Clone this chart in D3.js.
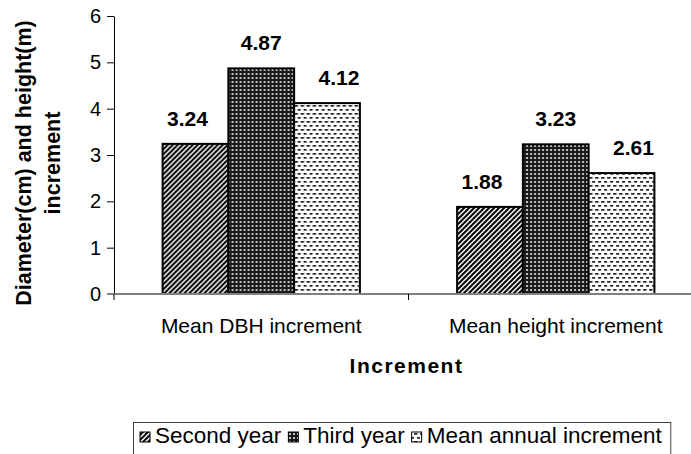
<!DOCTYPE html>
<html>
<head>
<meta charset="utf-8">
<script src="https://cdn.jsdelivr.net/npm/d3@7"></script>
<style>
  html, body { margin: 0; padding: 0; background: #fff; }
  svg { display: block; font-family: "Liberation Sans", Arial, sans-serif; }
</style>
</head>
<body>
<svg id="chart" width="691" height="454"></svg>
<script>
// Increment data: DBH (cm) and height (m)
const categories = ["Mean DBH increment", "Mean height increment"];
const seriesNames = ["Second year", "Third year", "Mean annual increment"];
const secondYear = [3.24, 1.88];
const thirdYear = [4.87, 3.23];
const meanAnnual = [4.12, 2.61];
const yTicks = [0, 1, 2, 3, 4, 5, 6];

const seriesValues = [secondYear, thirdYear, meanAnnual];
const patternIds = ["pat-diag", "pat-grid", "pat-dash"];
const labelNudge = [-8, 0, 12];
const FONT = "Liberation Sans, Arial, sans-serif";

const svg = d3.select("#chart");
const defs = svg.append("defs");

// Diagonal hatching
const p1 = defs.append("pattern").attr("id", "pat-diag")
  .attr("patternUnits", "userSpaceOnUse").attr("width", 5).attr("height", 5);
p1.append("rect").attr("width", 5).attr("height", 5).attr("fill", "#fff");
p1.append("path").attr("d", "M-1,1 l2,-2 M0,5 l5,-5 M4,6 l2,-2")
  .attr("stroke", "#000").attr("stroke-width", 2);

// Dark grid with light dots
const p2 = defs.append("pattern").attr("id", "pat-grid")
  .attr("patternUnits", "userSpaceOnUse").attr("width", 4).attr("height", 4);
p2.append("rect").attr("width", 4).attr("height", 4).attr("fill", "#1a1a1a");
p2.append("rect").attr("x", 1).attr("y", 1).attr("width", 2).attr("height", 2).attr("fill", "#c0c0c0");

// Staggered dashes on white
const p3 = defs.append("pattern").attr("id", "pat-dash")
  .attr("patternUnits", "userSpaceOnUse").attr("width", 6).attr("height", 8);
p3.append("rect").attr("width", 6).attr("height", 8).attr("fill", "#fff");
p3.append("rect").attr("x", 0).attr("y", 1).attr("width", 3.5).attr("height", 1.7).attr("fill", "#222");
p3.append("rect").attr("x", 3).attr("y", 5).attr("width", 3.5).attr("height", 1.7).attr("fill", "#222");

// Scales
const x0 = d3.scaleBand().domain(categories).range([114, 703])
  .paddingInner(0.33).paddingOuter(0.165);
const x1 = d3.scaleBand().domain(d3.range(seriesNames.length)).range([0, x0.bandwidth()]);
const y = d3.scaleLinear().domain([0, 6]).range([294, 16]);

// Y axis
const yAxis = svg.append("g").attr("transform", "translate(114,0)")
  .call(d3.axisLeft(y).tickValues(yTicks).tickFormat(d3.format("d"))
    .tickSize(7).tickPadding(6).tickSizeOuter(0));
yAxis.attr("font-family", FONT);
yAxis.select(".domain").attr("stroke", "#000");
yAxis.selectAll(".tick line").attr("stroke", "#000");
yAxis.selectAll(".tick text").attr("font-size", 20).attr("fill", "#000");

// Bars
const groups = svg.append("g").selectAll("g").data(categories).join("g")
  .attr("transform", c => `translate(${x0(c)},0)`);

groups.selectAll("rect")
  .data((c, ci) => seriesValues.map((vals, si) => ({ si, v: vals[ci] })))
  .join("rect")
  .attr("x", d => x1(d.si))
  .attr("y", d => y(d.v))
  .attr("width", x1.bandwidth())
  .attr("height", d => y(0) - y(d.v))
  .attr("fill", d => `url(#${patternIds[d.si]})`)
  .attr("stroke", "#000").attr("stroke-width", 2);

groups.selectAll("text.val")
  .data((c, ci) => seriesValues.map((vals, si) => ({ si, v: vals[ci] })))
  .join("text").attr("class", "val")
  .attr("x", d => x1(d.si) + x1.bandwidth() / 2 + labelNudge[d.si])
  .attr("y", d => y(d.v) - 18)
  .attr("text-anchor", "middle")
  .attr("font-size", 21).attr("font-weight", "bold")
  .text(d => d.v.toFixed(2));

// X axis line with category boundary ticks
const [xr0, xr1] = x0.range();
svg.append("line").attr("x1", 107).attr("x2", xr1).attr("y1", y(0)).attr("y2", y(0))
  .attr("stroke", "#808080").attr("stroke-width", 2);
svg.append("g").selectAll("line")
  .data(d3.range(categories.length + 1).map(i => xr0 + i * x0.step()))
  .join("line")
  .attr("x1", d => d).attr("x2", d => d)
  .attr("y1", y(0)).attr("y2", y(0) + 6)
  .attr("stroke", "#000").attr("stroke-width", 1);

// Category labels
svg.append("g").selectAll("text").data(categories).join("text")
  .attr("x", c => x0(c) + x0.bandwidth() / 2)
  .attr("y", 333)
  .attr("text-anchor", "middle")
  .attr("font-size", 21)
  .text(c => c);

// Axis titles
svg.append("text")
  .attr("x", (xr0 + xr1) / 2 - 2).attr("y", 373)
  .attr("text-anchor", "middle")
  .attr("font-size", 21).attr("font-weight", "bold").attr("letter-spacing", 1.5)
  .text("Increment");

const yTitle = svg.append("text")
  .attr("transform", "translate(0,163) rotate(-90)")
  .attr("text-anchor", "middle")
  .attr("font-size", 21.5).attr("font-weight", "bold");
yTitle.append("tspan").attr("x", 0).attr("y", 31).text("Diameter(cm) and height(m)");
yTitle.append("tspan").attr("x", 0).attr("y", 60).text("increment");

// Legend
const legend = svg.append("g");
const legendBox = legend.append("rect")
  .attr("x", 133.5).attr("y", 422.5).attr("height", 50)
  .attr("fill", "#fff").attr("stroke", "#404040").attr("stroke-width", 1);

let lx = 140;
seriesNames.forEach((name, i) => {
  legend.append("rect")
    .attr("x", lx).attr("y", 432).attr("width", 10).attr("height", 10)
    .attr("fill", `url(#${patternIds[i]})`)
    .attr("stroke", "#000").attr("stroke-width", 1);
  const t = legend.append("text")
    .attr("x", lx + 15).attr("y", 443)
    .attr("font-size", 22.5)
    .text(name);
  lx = lx + 15 + t.node().getComputedTextLength() + 7;
});
legendBox.attr("width", lx - 133.5 + 2);
</script>
</body>
</html>
